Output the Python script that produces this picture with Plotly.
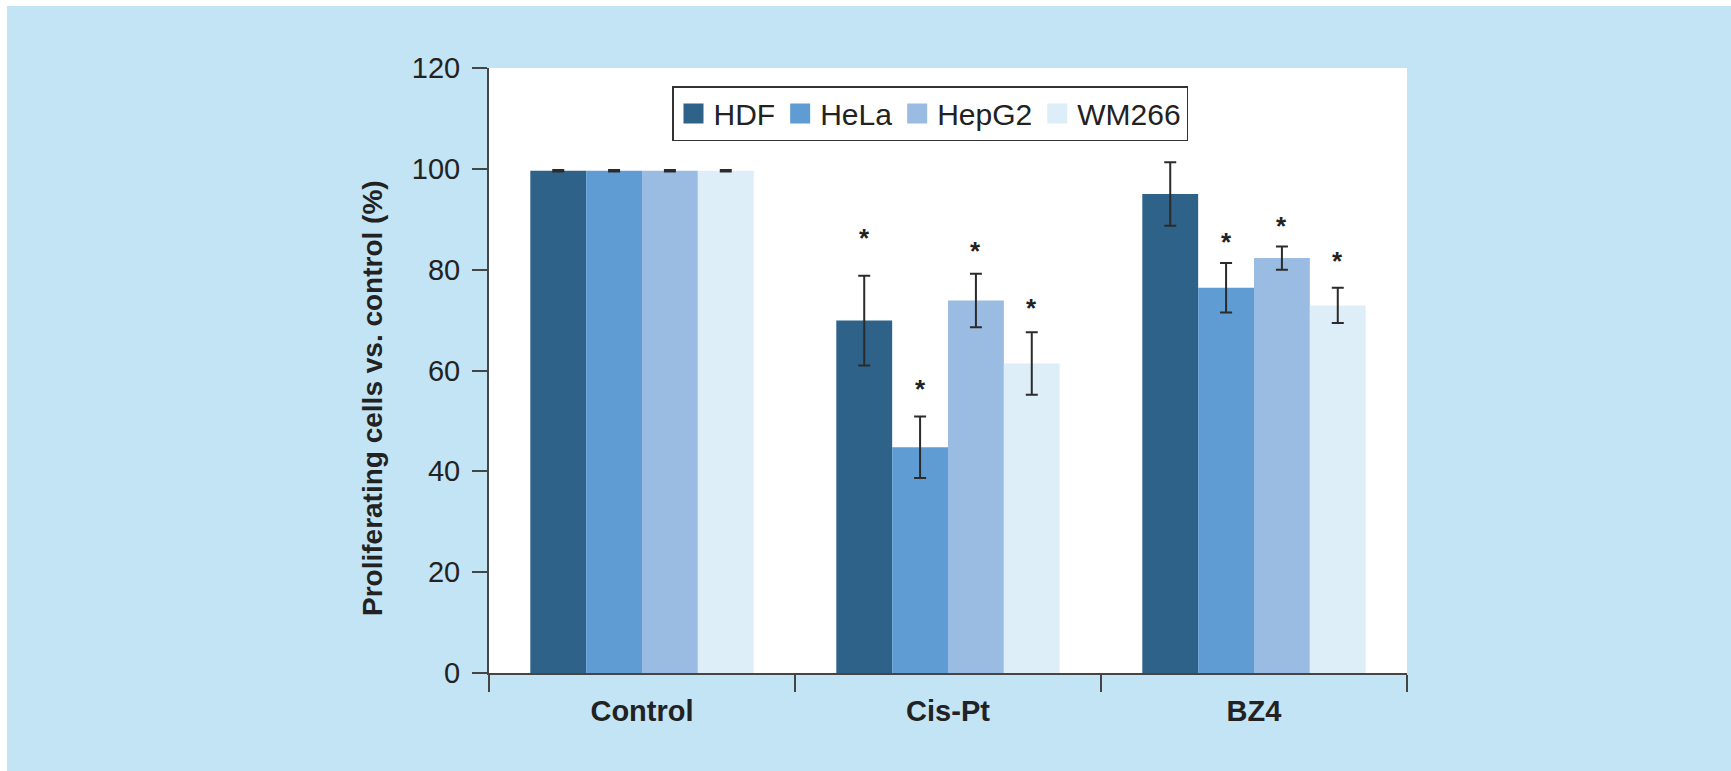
import plotly.graph_objects as go

categories = ["Control", "Cis-Pt", "BZ4"]
series_names = ["HDF", "HeLa", "HepG2", "WM266"]
colors = ["#2E6289", "#5E9CD3", "#9BBCE2", "#DDEEF9"]

hdf = [99.6, 69.9, 95.0]
hela = [99.6, 44.8, 76.4]
hepg2 = [99.6, 73.9, 82.3]
wm266 = [99.6, 61.4, 72.9]

hdf_err = [0.15, 8.9, 6.3]
hela_err = [0.15, 6.1, 4.9]
hepg2_err = [0.15, 5.3, 2.3]
wm266_err = [0.15, 6.2, 3.5]

# y position of significance stars (None = no star)
hdf_star = [None, 87.6, None]
hela_star = [None, 57.8, 86.9]
hepg2_star = [None, 85.0, 90.1]
wm266_star = [None, 73.7, 83.1]

y_ticks = [0, 20, 40, 60, 80, 100, 120]

values = [hdf, hela, hepg2, wm266]
errors = [hdf_err, hela_err, hepg2_err, wm266_err]
stars = [hdf_star, hela_star, hepg2_star, wm266_star]

BG = "#C2E4F5"
AXC = "#454545"
FONT = "Liberation Sans, Arial, Helvetica, sans-serif"
BARGAP = 0.27

W, H = 1731, 771
ML, MR, MT, MB = 489, 324, 68, 98

fig = go.Figure()
for name, col, v, e in zip(series_names, colors, values, errors):
    fig.add_trace(go.Bar(
        x=categories, y=v, name=name, showlegend=False,
        marker=dict(color=col, line=dict(width=0)),
        error_y=dict(type="data", array=e, visible=True, color="#2b2b2b",
                     thickness=2, width=6),
    ))
    # legend proxy
    fig.add_trace(go.Scatter(
        x=[None], y=[None], mode="markers", name=name,
        marker=dict(symbol="square", size=22, color=col,
                    line=dict(width=4, color=col)),
    ))

# significance stars, positioned at bar centres
n = len(series_names)
bw = (1 - BARGAP) / n
annotations = []
for i, st in enumerate(stars):
    off = -(1 - BARGAP) / 2 + bw * (i + 0.5)
    for j, sy in enumerate(st):
        if sy is None:
            continue
        annotations.append(dict(
            x=j + off, y=sy, xref="x", yref="y", text="<b>*</b>", showarrow=False,
            font=dict(family=FONT, size=26, color="#222"),
            yanchor="middle", yshift=-7,
        ))

pw = W - ML - MR
ph = H - MT - MB
annotations.append(dict(
    x=(372 - ML) / pw, y=(H - MB - 398) / ph, xref="paper", yref="paper",
    text="<b>Proliferating cells vs. control (%)</b>", showarrow=False,
    textangle=-90, font=dict(family=FONT, size=28, color="#222"),
    xanchor="center", yanchor="middle",
))

shapes = [
    dict(type="rect", xref="paper", yref="paper",
         x0=-ML / pw, x1=(W - ML) / pw, y0=(H - MB) / ph, y1=(H - MB - 6) / ph,
         fillcolor="white", line=dict(width=0), layer="below"),
    dict(type="rect", xref="paper", yref="paper",
         x0=-ML / pw, x1=(7 - ML) / pw, y0=-MB / ph, y1=(H - MB) / ph,
         fillcolor="white", line=dict(width=0), layer="below"),
]

fig.update_layout(
    width=W, height=H,
    margin=dict(l=ML, r=MR, t=MT, b=MB, pad=0),
    paper_bgcolor=BG, plot_bgcolor="white",
    barmode="group", bargap=BARGAP, bargroupgap=0,
    font=dict(family=FONT, color="#222"),
    annotations=annotations, shapes=shapes,
    legend=dict(
        orientation="h", x=(930 - ML) / pw, xanchor="center",
        y=(H - MB - 86) / ph, yanchor="top",
        bgcolor="white", bordercolor="#333", borderwidth=1.5,
        font=dict(family=FONT, size=30, color="#222"),
        itemsizing="trace", tracegroupgap=0,
    ),
    xaxis=dict(
        range=[-0.5, 2.5], showline=True, linecolor=AXC, linewidth=2,
        ticks="outside", tickson="boundaries", ticklen=17, tickwidth=2,
        tickcolor=AXC, showgrid=False, zeroline=False,
        tickfont=dict(family=FONT, size=29, color="#222"),
        tickprefix="<b>", ticksuffix="</b>", ticklabelstandoff=11,
    ),
    yaxis=dict(
        range=[0, 120], tickvals=y_ticks, showline=True, linecolor=AXC,
        linewidth=2, ticks="outside", ticklen=15, tickwidth=2, tickcolor=AXC,
        showgrid=False, zeroline=False,
        tickfont=dict(family=FONT, size=29, color="#222"),
        ticklabelstandoff=6,
    ),
)

fig.write_html("out.html")
